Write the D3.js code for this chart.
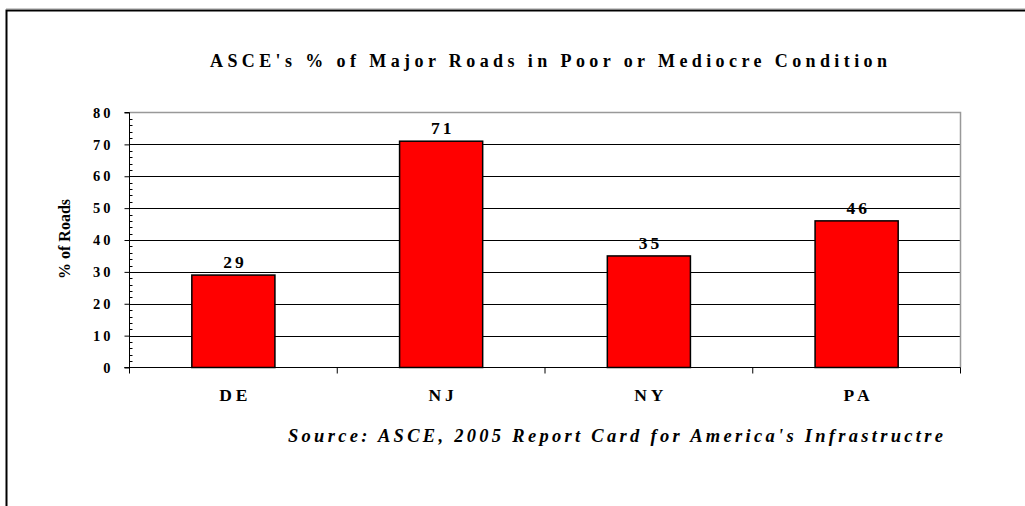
<!DOCTYPE html>
<html><head><meta charset="utf-8">
<script src="https://cdn.jsdelivr.net/npm/d3@7"></script>
<style>body{margin:0;background:#fff}svg{display:block}text{font-family:"Liberation Serif","Times New Roman",serif;font-weight:bold;fill:#000}</style>
</head><body>
<script>
const categories = ["DE","NJ","NY","PA"];
const values = [29,71,35,46];
const yTicks = [0,10,20,30,40,50,60,70,80];
const titleText = "ASCE's % of Major Roads in Poor or Mediocre Condition";
const yAxisTitle = "% of Roads";
const sourceText = "Source: ASCE, 2005 Report Card for America's Infrastructre";

const W = 1025, H = 506;
const svg = d3.select("body").append("svg").attr("width", W).attr("height", H);

// outer frame
svg.append("line").attr("x1",6).attr("x2",W).attr("y1",8.5).attr("y2",8.5).attr("stroke","#ccc").attr("stroke-width",1);
svg.append("path").attr("d",`M6.5,${H} V10.5 H${W}`).attr("fill","none").attr("stroke","#000").attr("stroke-width",2);

const L = 129.5, R = 960.5, T = 112.5, B = 367.5;
const x = d3.scaleBand().domain(categories).range([L, R]).paddingInner(0.6).paddingOuter(0.3);
const xb = d3.scaleBand().domain(categories).range([L, R]);
const y = d3.scaleLinear().domain([0, 80]).range([B, T]);

// gridlines
svg.append("g").selectAll("line").data(yTicks.filter(d => d > 0 && d < 80)).join("line")
  .attr("x1", L).attr("x2", R).attr("y1", d => Math.round(y(d)) + 0.5).attr("y2", d => Math.round(y(d)) + 0.5)
  .attr("stroke", "#000").attr("stroke-width", 1);
// plot border top/right gray
svg.append("path").attr("d", `M${L},${T} H${R} V${B}`).attr("fill","none").attr("stroke","#999").attr("stroke-width",1.5);

// bars
svg.append("g").selectAll("rect").data(values).join("rect")
  .attr("x", (d,i) => x(categories[i]))
  .attr("width", x.bandwidth())
  .attr("y", d => y(d))
  .attr("height", d => B - y(d))
  .attr("fill", "#ff0000").attr("stroke", "#000").attr("stroke-width", 1.5);

// value labels
svg.append("g").selectAll("text").data(values).join("text")
  .attr("x", (d,i) => x(categories[i]) + x.bandwidth()/2 + 1.5)
  .attr("y", d => y(d) - 7)
  .attr("text-anchor", "middle").attr("font-size", 17.5).attr("letter-spacing", 3)
  .text(d => d);

// y axis
const yAxis = d3.axisLeft(y).tickValues(yTicks).tickSize(5).tickPadding(14).tickFormat(d => d);
const gy = svg.append("g").attr("transform", `translate(${L},0)`).call(yAxis);
gy.select(".domain").attr("stroke","#000").attr("d", `M-5,${T}H0V${B}H-5`);
gy.selectAll(".tick line").attr("stroke","#000");
gy.selectAll(".tick text").attr("font-size", 14.5).attr("font-family","Liberation Serif").attr("font-weight","bold").attr("letter-spacing", 3).attr("dx", 3);
// minor ticks inside
const minor = d3.range(2, 80, 2).filter(d => d % 10 !== 0);
svg.append("g").selectAll("line").data(minor).join("line")
  .attr("x1", L).attr("x2", L + 3).attr("y1", d => Math.round(y(d)) + 0.5).attr("y2", d => Math.round(y(d)) + 0.5)
  .attr("stroke", "#000").attr("stroke-width", 1);

// x axis
const gx = svg.append("g").attr("transform", `translate(0,${B})`);
gx.append("line").attr("x1", L - 5).attr("x2", R).attr("stroke", "#000");
const bounds = categories.map(c => xb(c)).concat([R]);
gx.selectAll("line.tk").data(bounds).join("line").attr("class","tk")
  .attr("x1", d => d).attr("x2", d => d).attr("y1", 0).attr("y2", 6).attr("stroke", "#000");
gx.selectAll("text").data(categories).join("text")
  .attr("x", d => xb(d) + xb.bandwidth()/2 + 2)
  .attr("y", 33).attr("text-anchor", "middle").attr("font-size", 17.5).attr("letter-spacing", 4)
  .text(d => d);

// y axis title
svg.append("text").attr("transform", "translate(70,239) rotate(-90)")
  .attr("text-anchor", "middle").attr("font-size", 16).text(yAxisTitle);

// title
svg.append("text").attr("x", 210).attr("y", 67).attr("font-size", 18)
  .attr("textLength", 677).attr("lengthAdjust", "spacing").text(titleText);

// source
svg.append("text").attr("x", 288).attr("y", 442).attr("font-size", 18.5).attr("font-style", "italic")
  .attr("textLength", 655).attr("lengthAdjust", "spacing").text(sourceText);
</script>
</body></html>
